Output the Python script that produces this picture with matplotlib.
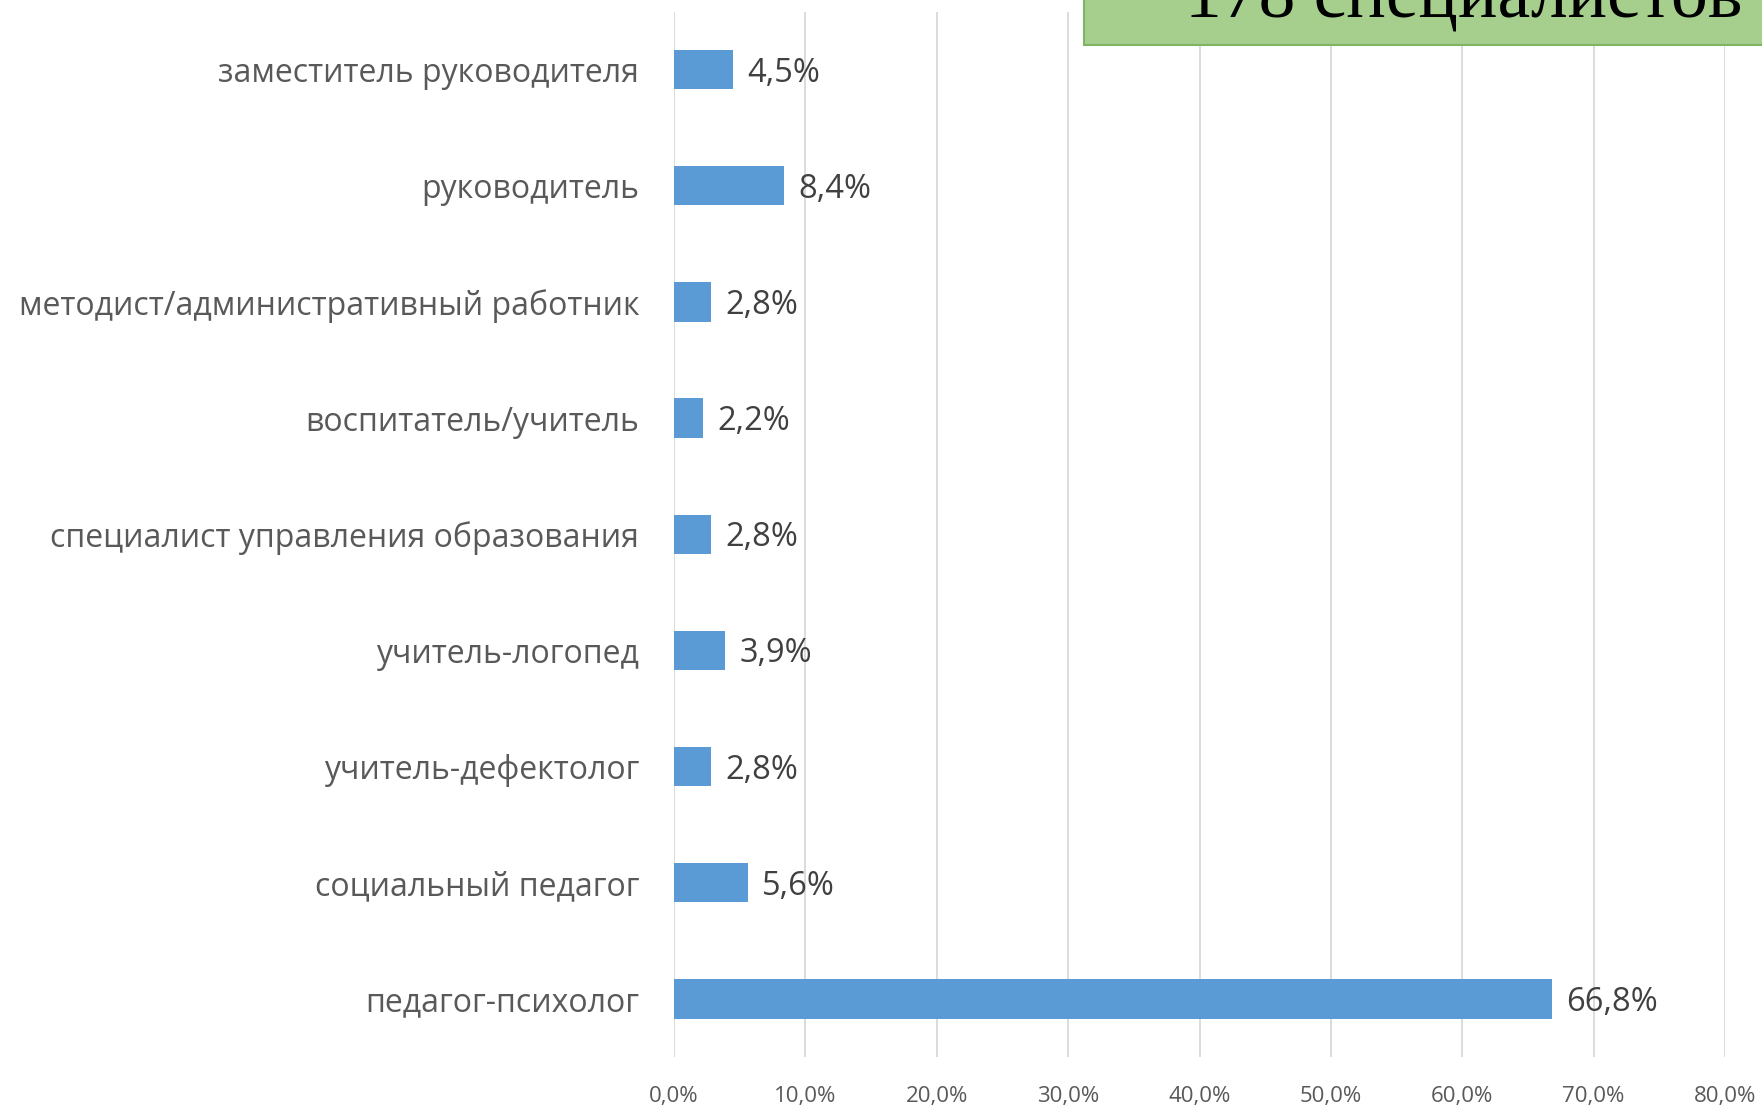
import matplotlib
matplotlib.use('Agg')
import matplotlib.pyplot as plt
from matplotlib.patches import Rectangle

categories = ['заместитель руководителя', 'руководитель',
              'методист/административный работник', 'воспитатель/учитель',
              'специалист управления образования', 'учитель-логопед',
              'учитель-дефектолог', 'социальный педагог', 'педагог-психолог']
shares = [4.5, 8.4, 2.8, 2.2, 2.8, 3.9, 2.8, 5.6, 66.8]
value_labels = ['4,5%', '8,4%', '2,8%', '2,2%', '2,8%', '3,9%', '2,8%', '5,6%', '66,8%']
xticks = [0, 10, 20, 30, 40, 50, 60, 70, 80]
title_text = '178 специалистов'

plt.rcParams['font.family'] = ['Open Sans', 'DejaVu Sans']

fig = plt.figure(figsize=(17.62, 11.09), dpi=100)
ax = fig.add_axes([674 / 1762, 1 - 1057 / 1109, 1051 / 1762, (1057 - 11.5) / 1109])

# top category first, so reverse positions
pos = list(range(len(categories)))[::-1]
ax.barh(pos, shares, height=0.34, color='#5B9BD5', zorder=3)
for p, v, lab in zip(pos, shares, value_labels):
    ax.text(v + 1.1, p - 0.03, lab, va='center', ha='left', fontsize=23.5, color='#404040')

ax.set_yticks(pos)
ax.set_yticklabels(categories, fontsize=23, color='#595959')
ax.set_ylim(-0.5, len(categories) - 0.5)
ax.set_xlim(0, 80)
ax.set_xticks(xticks)
ax.set_xticklabels([f'{t},0%' for t in xticks], fontsize=16, color='#595959')
ax.tick_params(axis='y', length=0, pad=25)
ax.tick_params(axis='x', length=0, pad=21)
ax.grid(axis='x', color='#D9D9D9', linewidth=1.3, zorder=0)
for s in ax.spines.values():
    s.set_visible(False)

# green header box, cut off at the top of the picture
fig.patches.append(Rectangle((1084 / 1762, 1 - 45 / 1109), 0.5, 0.2,
                             transform=fig.transFigure, facecolor='#A6CF8E',
                             edgecolor='#7DB562', linewidth=1.5, zorder=5))
fig.text(1185 / 1762, 1 - 18 / 1109, title_text, fontsize=53, color='black',
         family=['Liberation Serif', 'DejaVu Serif'], ha='left', va='baseline', zorder=6)

fig.savefig('out.png', dpi=100)
